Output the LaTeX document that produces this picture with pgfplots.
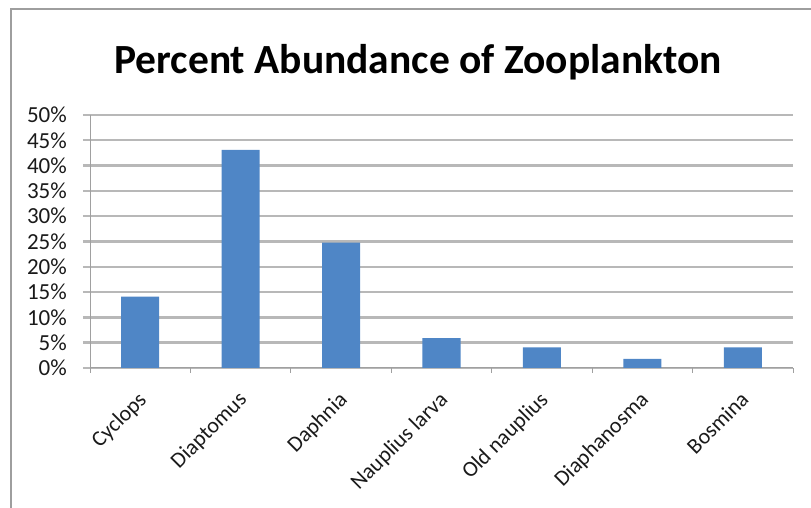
\documentclass[border=0pt]{standalone}
\usepackage{pgfplots}
\pgfplotsset{compat=1.18}
\usepackage{fontspec}
\setmainfont{Carlito}

\definecolor{barblue}{HTML}{4F86C6}
\definecolor{gridgray}{HTML}{B8B8B8}
\definecolor{axisgray}{HTML}{A0A0A0}
\definecolor{framegray}{HTML}{9E9E9E}
\definecolor{labelgray}{HTML}{1A1A1A}

\begin{document}
\begin{tikzpicture}[x=1pt,y=1pt]
  \useasboundingbox (0,0) rectangle (811,508);
  % chart frame (left and top edges)
  \draw[framegray, line width=2.5pt] (11,0) -- (11,499) -- (811,499);
  % chart title
  \node[font=\fontsize{41.5}{50}\selectfont\bfseries, text=black] at (418,446) {Percent Abundance of Zooplankton};
  \begin{axis}[
    at={(90pt,140pt)}, anchor=south west,
    scale only axis, width=703pt, height=253pt,
    xmin=-0.5, xmax=6.5, ymin=0, ymax=50,
    axis lines*=left,
    axis line style={draw=axisgray, line width=1pt},
    ymajorgrids,
    grid style={draw=gridgray, line width=2.4pt},
    ytick={0,5,...,50},
    yticklabel={\pgfmathprintnumber{\tick}\%},
    /pgf/number format/assume math mode=true,
    xtick={0,...,6},
    xticklabels={Cyclops, Diaptomus, Daphnia, Nauplius larva, Old nauplius, Diaphanosma, Bosmina},
    minor xtick={-0.5,0.5,...,6.5},
    tick align=outside,
    major tick length=7pt,
    minor tick length=5pt,
    major x tick style={draw=none},
    ytick style={draw=gridgray, line width=2.4pt},
    minor x tick style={draw=axisgray, line width=1pt},
    tick label style={font=\fontsize{22}{26}\selectfont, text=labelgray},
    yticklabel style={inner sep=0pt, xshift=-16pt, font=\fontsize{23}{27}\selectfont},
    xticklabel style={rotate=45, anchor=north east, inner sep=0pt, yshift=-8pt, xshift=-13pt},
    ybar, bar width=38pt,
  ]
    \addplot[fill=barblue, draw=none] coordinates {
      (0,14.1) (1,43.1) (2,24.8) (3,5.9) (4,4.1) (5,1.8) (6,4.1)
    };
  \end{axis}
\end{tikzpicture}
\end{document}
